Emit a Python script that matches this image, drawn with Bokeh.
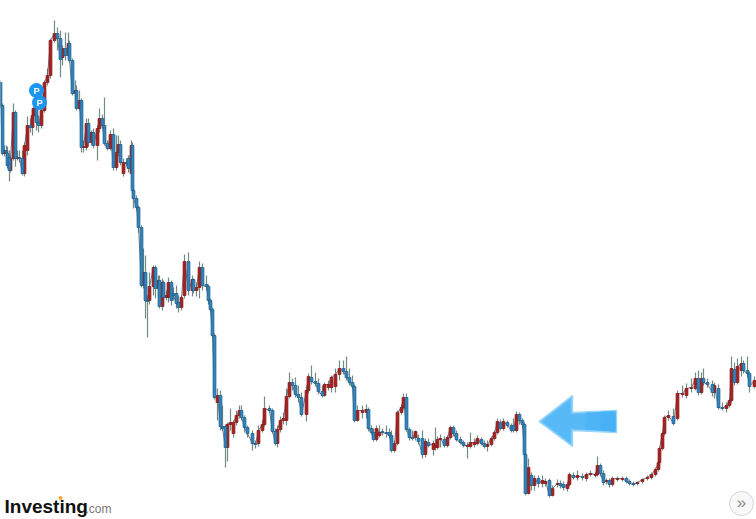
from bokeh.plotting import figure
from bokeh.models import Range1d, ColumnDataSource
from bokeh.core.properties import value
from bokeh.embed import file_html
from bokeh.resources import INLINE

# Values; the price scale runs downwards
bar_pos = [0,2,4,6,7,9,10,13,15,17,19,22,24,27,30,32,33,36,38,41,44,47,50,54,57,60,62,65,68,69,
 72,75,76,79,81,83,86,88,91,93,97,99,102,104,107,110,113,116,118,120,123,126,128,131,132,
 133,136,138,141,143,145,147,149,153,155,158,159,162,163,166,168,171,173,176,178,181,184,188,192,193,
 196,199,202,206,208,210,212,214,217,220,222,225,227,230,233,236,239,241,244,247,252,255,258,262,264,
 269,272,275,277,280,283,286,289,292,295,298,301,306,308,311,315,318,322,324,328,331,335,339,343,346,
 349,352,354,357,362,366,368,371,373,376,379,382,386,389,391,394,397,401,403,406,409,412,415,418,422,
 425,428,433,435,437,440,444,447,450,453,456,460,463,467,470,474,477,481,484,487,491,494,497,500,503,
 507,511,513,516,519,522,524,525,528,531,534,538,542,545,549,552,557,560,563,567,569,573,577,582,586,
 590,595,597,600,603,606,609,612,617,622,626,629,633,637,642,647,651,655,658,659,662,664,668,673,677,
 682,686,691,695,698,701,703,707,712,714,718,722,726,729,731,734,737,741,743,747,749,754]
bar_open = [82,105,153,150,153,157,170,158,112,158,157,158,173,150,125,127,115,108,122,125,110,82,75,40,33,38,57,48,55,43,
 60,93,90,108,100,147,147,123,142,132,145,128,118,125,143,148,134,167,152,144,173,162,158,173,145,
 190,198,207,227,285,272,300,300,286,267,288,280,306,282,297,297,282,293,293,302,307,295,261,290,279,
 290,287,267,284,286,300,309,335,402,395,426,426,447,424,433,422,415,410,417,427,433,443,443,430,424,
 408,410,431,443,429,420,420,396,382,385,394,397,414,390,377,381,383,391,395,387,387,386,374,368,371,
 377,382,386,420,412,412,409,428,432,439,435,431,432,432,435,450,443,412,407,397,429,437,437,438,438,
 454,442,449,447,447,439,439,445,437,427,433,439,442,446,446,444,443,439,443,446,444,438,432,422,428,
 422,425,425,430,414,420,424,454,493,475,485,478,483,483,480,495,484,483,484,488,484,475,477,476,478,
 474,475,474,465,473,481,480,484,479,479,478,481,483,483,481,478,477,474,469,462,448,433,417,416,418,
 394,395,388,388,378,392,378,382,384,392,388,407,408,405,400,369,382,370,363,370,373,386]
bar_close = [105,153,150,152,165,170,158,112,158,157,158,173,145,125,127,115,108,122,125,110,82,75,40,33,38,59,48,55,43,60,
 93,90,108,100,147,146,123,142,132,145,128,118,125,143,148,134,167,152,144,162,162,163,168,145,190,
 198,207,227,285,272,300,301,286,267,288,280,306,282,297,295,282,300,295,303,307,297,261,290,279,290,
 287,267,285,286,300,309,335,397,395,426,428,447,424,422,422,415,410,417,427,433,443,444,430,424,408,
 410,431,443,429,420,418,396,382,385,394,397,414,390,376,381,383,391,395,384,384,377,374,368,371,377,
 382,386,420,410,410,409,428,432,439,428,432,432,433,435,450,443,412,407,397,429,437,438,431,441,454,
 441,445,443,445,439,438,445,437,427,433,439,442,445,445,442,442,438,443,446,444,438,432,421,428,421,
 425,430,430,414,420,424,454,493,467,485,478,483,480,481,495,488,483,485,487,484,474,477,475,477,474,
 473,474,465,473,482,480,484,478,478,478,481,483,484,482,479,477,474,469,462,448,433,417,415,423,393,
 393,388,387,378,392,378,382,384,392,385,407,408,405,400,368,382,366,363,370,373,386,380]
bar_high = [80,103,145,145,146,150,155,103,110,150,150,150,142,116,118,110,105,105,115,105,80,68,38,20,27,30,45,32,32,40,
 58,80,85,90,98,140,118,118,130,128,125,108,114,97,140,130,128,135,135,140,158,158,155,140,142,
 188,195,205,225,248,255,295,272,265,265,275,275,278,280,290,277,280,287,285,295,295,254,252,275,278,
 282,261,263,275,284,298,307,333,388,390,405,424,422,408,420,410,405,405,415,425,430,440,425,420,396,
 405,408,428,425,416,412,388,372,378,377,385,392,385,373,365,372,378,385,382,380,375,368,360,360,356,
 368,375,384,405,405,404,407,425,428,425,425,428,425,428,430,440,410,404,393,393,427,430,430,434,430,
 438,438,440,427,436,434,436,435,425,425,430,436,440,442,432,438,435,437,440,440,436,430,418,419,418,
 420,423,418,411,412,418,422,452,458,472,475,475,475,478,478,485,479,480,481,482,472,472,470,473,472,
 470,472,456,463,470,478,478,476,476,476,476,479,481,481,478,475,472,467,460,446,431,415,410,408,390,
 385,383,378,372,370,372,368,378,380,382,384,402,402,398,356,362,358,356,360,356,371,376]
bar_low = [107,155,156,158,168,181,172,160,166,160,162,175,176,155,132,135,118,130,132,128,112,85,78,42,50,77,65,60,58,62,
 95,98,110,110,152,152,150,146,145,148,160,132,128,145,150,150,170,170,156,165,176,166,172,175,192,
 208,210,232,287,288,318,337,304,295,298,296,308,310,300,300,302,305,300,308,312,310,298,295,296,293,
 296,298,290,290,304,312,337,399,420,430,430,467,461,430,437,425,418,420,432,437,450,448,446,432,426,
 412,433,445,447,432,424,425,398,390,397,402,416,421,393,384,386,394,397,396,390,392,392,380,374,380,
 385,388,422,421,418,418,431,434,441,441,437,435,437,438,452,452,445,414,409,431,440,440,440,444,458,
 457,447,455,450,449,447,447,447,439,436,441,444,447,458,448,447,445,445,448,451,446,440,434,430,430,
 427,432,432,432,424,428,456,495,494,490,490,487,487,486,497,496,487,488,490,491,486,479,480,480,481,
 476,477,476,476,485,484,487,486,481,481,483,485,486,485,483,480,479,476,471,464,450,435,420,425,420,
 397,398,392,390,395,394,385,387,396,398,409,410,412,407,402,385,384,376,373,377,392,388]

arrow_x = [538.5, 572, 572, 616, 616, 572, 572]
arrow_y = [421, 395, 412, 410, 432, 430, 446]
arrow_inner_x = [542, 570, 570, 615, 615, 570, 570]
arrow_inner_y = [421, 399, 414, 411, 431, 428, 443]
arrow_band_x = [[585, 615, 615, 585], [600, 615, 615, 600]]
arrow_band_y = [[412, 411, 431, 429], [411, 411, 431, 430]]
arrow_band_colors = ["#4fb4f6", "#49b0f5"]
pin_x = [36, 39]
pin_y = [90, 102]
pin_labels = ["P", "P"]
logo_main = "Investing"
logo_tail = ".com"
more_label = "»"

assert len({len(bar_pos), len(bar_open), len(bar_close), len(bar_high), len(bar_low)}) == 1

p = figure(width=756, height=519, output_backend="svg", toolbar_location=None,
           x_range=Range1d(0, 756), y_range=Range1d(519, 0), min_border=0,
           outline_line_color=None, background_fill_color="white", border_fill_color="white")
p.axis.visible = False
p.grid.visible = False

def pick(flag):
    idx = [i for i, (o, c) in enumerate(zip(bar_open, bar_close)) if flag(o, c)]
    return ColumnDataSource(dict(
        x=[bar_pos[i] for i in idx],
        top=[min(bar_open[i], bar_close[i]) for i in idx],
        bottom=[max(bar_open[i], bar_close[i]) for i in idx],
        high=[bar_high[i] for i in idx],
        low=[bar_low[i] for i in idx]))

rising = pick(lambda o, c: c < o)    # smaller scale value sits higher
falling = pick(lambda o, c: c >= o)

for src in (rising, falling):
    p.segment("x", "high", "x", "low", source=src, line_color="#4f6f62", line_width=1.2, line_alpha=0.8)
p.line(bar_pos, bar_close, line_color="#4a5f6e", line_width=1, line_alpha=0.8)
p.vbar("x", 2.8, "bottom", "top", source=rising, fill_color="#a81f1f", line_color="#8a1c1c", line_width=0.8)
p.vbar("x", 2.8, "bottom", "top", source=falling, fill_color="#2f86bd", line_color="#1f5f8e", line_width=0.8)

# arrow, lighter towards the head and stronger at the tail
p.patch(arrow_x, arrow_y, fill_color="#6cc3f8", line_color="#9ad6fa", line_width=1.5)
p.patch(arrow_inner_x, arrow_inner_y, fill_color="#58b9f7", line_color=None)
p.patches(arrow_band_x, arrow_band_y, fill_color=arrow_band_colors, line_color=None)

# position pins
p.scatter(pin_x, pin_y, size=14, marker="circle", fill_color="#1c95ee", line_color="#1c95ee")
p.text(pin_x, pin_y, text=pin_labels, text_color="white", text_font=value("Liberation Sans"),
       text_font_style="bold", text_font_size="9px", text_align="center", text_baseline="middle")

# brand and scroll button
p.text([4], [506], text=[logo_main], text_color="#111111", text_font=value("Liberation Sans"),
       text_font_style="bold", text_font_size="19px", text_align="left", text_baseline="middle")
p.scatter([60], [497.5], size=3, marker="circle", fill_color="#f5a623", line_color="#f5a623")
p.text([85], [508], text=[logo_tail], text_color="#777777", text_font=value("Liberation Sans"),
       text_font_size="12px", text_align="left", text_baseline="middle")
p.scatter([741], [503], size=24, marker="circle", fill_color="#f8f8f8", line_color="#d4d4d4")
p.text([741], [502], text=[more_label], text_color="#8a8a8a", text_font=value("Liberation Sans"),
       text_font_size="17px", text_align="center", text_baseline="middle")

open("out.html", "w").write(file_html(p, INLINE))
